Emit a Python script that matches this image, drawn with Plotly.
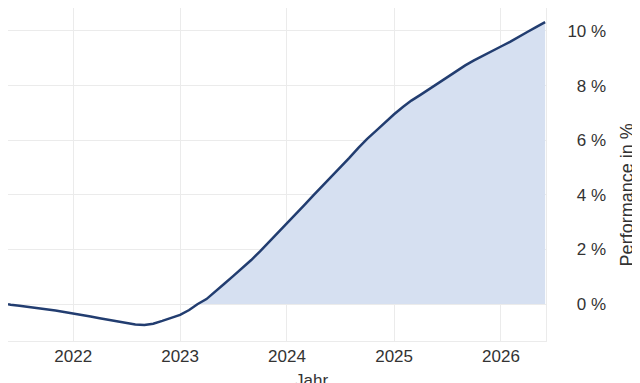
import plotly.graph_objects as go

# monthly performance values (in %)
dates = [
    "2021-05-23", "2021-06-01", "2021-07-01", "2021-08-01", "2021-09-01", "2021-10-01",
    "2021-11-01", "2021-12-01", "2022-01-01", "2022-02-01", "2022-03-01", "2022-04-01",
    "2022-05-01", "2022-06-01", "2022-07-01", "2022-08-01", "2022-09-01", "2022-10-01",
    "2022-11-01", "2022-12-01", "2023-01-01", "2023-02-01", "2023-03-01", "2023-04-01",
    "2023-05-01", "2023-06-01", "2023-07-01", "2023-08-01", "2023-09-01", "2023-10-01",
    "2023-11-01", "2023-12-01", "2024-01-01", "2024-02-01", "2024-03-01", "2024-04-01",
    "2024-05-01", "2024-06-01", "2024-07-01", "2024-08-01", "2024-09-01", "2024-10-01",
    "2024-11-01", "2024-12-01", "2025-01-01", "2025-02-01", "2025-03-01", "2025-04-01",
    "2025-05-01", "2025-06-01", "2025-07-01", "2025-08-01", "2025-09-01", "2025-10-01",
    "2025-11-01", "2025-12-01", "2026-01-01", "2026-02-01", "2026-03-01", "2026-04-01",
    "2026-05-01", "2026-06-01",
]
performance = [
    -0.01, -0.03, -0.06, -0.10, -0.14, -0.19,
    -0.24, -0.29, -0.34, -0.40, -0.46, -0.52,
    -0.58, -0.64, -0.70, -0.75, -0.77, -0.72,
    -0.62, -0.52, -0.40, -0.22, -0.01, 0.18,
    0.44, 0.74, 1.02, 1.30, 1.61, 1.93,
    2.27, 2.60, 2.96, 3.30, 3.63, 3.99,
    4.32, 4.68, 5.02, 5.35, 5.72, 6.05,
    6.35, 6.65, 6.95, 7.22, 7.45, 7.66,
    7.88, 8.10, 8.30, 8.52, 8.74, 8.92,
    9.10, 9.27, 9.43, 9.60, 9.78, 9.96,
    10.14, 10.32,
]
y_ticks = [0, 2, 4, 6, 8, 10]
y_ticklabels = ["\u20070 %", "\u20072 %", "\u20074 %", "\u20076 %", "\u20078 %", "10 %"]

FONT = "Liberation Sans, Arial, sans-serif"
GRID = "#ebebeb"
TEXT = "#333333"

fig = go.Figure()
# shaded area only above zero
fig.add_trace(go.Scatter(
    x=dates, y=[max(v, 0) for v in performance],
    mode="lines", line=dict(width=0), fill="tozeroy",
    fillcolor="#d6e0f1", hoverinfo="skip", showlegend=False,
))
fig.add_trace(go.Scatter(
    x=dates, y=performance, mode="lines",
    line=dict(color="#223d70", width=2.5), showlegend=False,
))

fig.update_layout(
    width=640, height=383,
    margin=dict(l=0, r=102, t=0, b=50),
    paper_bgcolor="white", plot_bgcolor="white",
    font=dict(family=FONT, size=16, color=TEXT),
    xaxis=dict(
        type="date", range=["2021-05-23", "2026-06-04"],
        dtick="M12", tick0="2022-01-01", tickformat="%Y",
        showgrid=True, gridcolor=GRID, zeroline=False,
        showline=True, linecolor=GRID, ticks="",
        tickfont=dict(size=17),
    ),
    yaxis=dict(
        side="right", range=[-1.355, 10.84],
        tickvals=y_ticks, ticktext=y_ticklabels,
        showgrid=True, gridcolor=GRID, zeroline=False,
        showline=True, linecolor=GRID, ticks="", ticklabelstandoff=17,
        tickfont=dict(size=17),
    ),
    annotations=[
        dict(text="Jahr", xref="paper", yref="paper", x=0.565, y=-0.12,
             xanchor="center", yanchor="middle", showarrow=False,
             font=dict(family=FONT, size=17, color=TEXT)),
        dict(text="Performance in %", xref="paper", yref="paper", x=1.151, y=0.438,
             xanchor="center", yanchor="middle", textangle=-90, showarrow=False,
             font=dict(family=FONT, size=18, color=TEXT)),
    ],
)

fig.write_html("out.html")
